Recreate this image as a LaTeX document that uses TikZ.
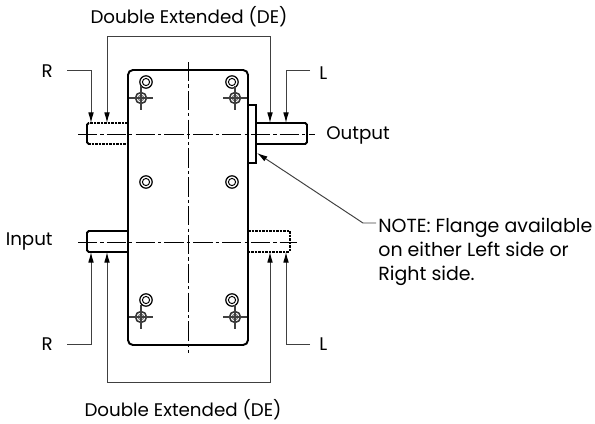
\documentclass[tikz,border=0pt]{standalone}
\usepackage{fontspec}
\setmainfont{Poppins}
\usepackage{tikz}
\usetikzlibrary{arrows.meta}
\tikzset{
    body/.style={line width=1.1pt},
    hidden/.style={line width=1pt, dash pattern=on 1.6pt off 0.4pt},
    centerline/.style={line width=0.55pt, dash pattern=on 11pt off 1.8pt on 1.8pt off 1.8pt},
    leader/.style={line width=0.55pt, black!75, -{Latex[length=6pt,width=3.2pt,black]}},
    label/.style={font=\fontsize{10.4pt}{13.6pt}\selectfont, inner sep=0pt},
    notetext/.style={font=\fontsize{10.8pt}{13.6pt}\selectfont, inner sep=0pt},
    bolt/.pic={
        \draw[line width=0.7pt] (0,0) circle (6.2);
        \draw[line width=0.55pt] (0,0) circle (3.6);
    },
    mark hole/.pic={
        \draw[line width=0.9pt, black!80] (0,0) circle (5.5);
        \draw[line width=0.5pt, black!60] (0,0) circle (2.8);
        \draw[line width=0.6pt, black!75] (-12,0) -- (12,0) (0,-12) -- (0,12);
    }
}
\begin{document}
\begin{tikzpicture}[x=0.02cm, y=-0.02cm]
    \useasboundingbox (0,0) rectangle (595,423);
    % Carcasa
    \draw[body, rounded corners=2.8pt] (128,70) rectangle (248,345);
    \draw[body] (248,105) -- (256,105) -- (256,163) -- (248,163);
    % Ejes superiores
    \draw[hidden] (128,123) -- (88,123);
    \draw[hidden] (88,144) -- (128,144);
    \draw[body, rounded corners=1pt] (89,123) -- (87,123) -- (87,144) -- (89,144);
    \draw[body, rounded corners=1pt] (256,123) -- (307,123) -- (307,144) -- (256,144);
    % Ejes inferiores
    \draw[body, rounded corners=1pt] (128,231) -- (87,231) -- (87,252) -- (128,252);
    \draw[hidden] (248,231) -- (289,231);
    \draw[hidden] (289,252) -- (248,252);
    \draw[hidden] (290,231) -- (290,252);
    \draw[line width=1.6pt] (128,231) -- (128,252) (248,231) -- (248,252);
    % Ejes de simetria
    \draw[centerline] (188,62) -- (188,353);
    \draw[centerline] (78,134) -- (315,134);
    \draw[centerline] (78,242) -- (297,242);
    % Tornillos
    \foreach \px/\py in {146/82, 232/82, 146/182, 232/182, 146/300, 232/300}
        \pic at (\px,\py) {bolt};
    \foreach \px/\py in {141/98, 235/98, 141/317, 235/317}
        \pic at (\px,\py) {mark hole};
    % Rotulos
    \node[label] (detop) at (189,17) {Double Extended (DE)};
    \node[label] (debot) at (183,410) {Double Extended (DE)};
    \node[label, anchor=east] (rtop) at (53,71) {R};
    \node[label, anchor=east] (rbot) at (53,344) {R};
    \node[label, anchor=west] (ltop) at (319,73) {L};
    \node[label, anchor=west] (lbot) at (319,344) {L};
    \node[label, anchor=west] (output) at (326,135) {Output};
    \node[label, anchor=east] (input) at (53,242) {Input};
    \node[notetext, anchor=north west, align=left] (note) at (378,218) {NOTE: Flange available\\on either Left side or\\Right side.};
    % Cotas
    \coordinate (rtopstart) at (67,70);
    \coordinate (ltopstart) at (310,70);
    \coordinate (rbotstart) at (67,344);
    \coordinate (lbotstart) at (310,344);
    \coordinate (rtoptip) at (91,123);
    \coordinate (ltoptip) at (286,123);
    \coordinate (rbottip) at (91,252);
    \coordinate (lbottip) at (286,252);
    \coordinate (detopmid) at (188,36);
    \coordinate (debotmid) at (188,382);
    \coordinate (deltop) at (107,123);
    \coordinate (dertop) at (270,123);
    \coordinate (delbot) at (107,252);
    \coordinate (derbot) at (270,252);
    \coordinate (flange) at (257,153);
    \coordinate (noteknee) at (363,223);
    \coordinate (notestart) at (376,223);
    \draw[leader] (rtopstart) -| (rtoptip);
    \draw[leader] (ltopstart) -| (ltoptip);
    \draw[leader] (rbotstart) -| (rbottip);
    \draw[leader] (lbotstart) -| (lbottip);
    \draw[leader] (detopmid) -| (deltop);
    \draw[leader] (detopmid) -| (dertop);
    \draw[leader] (debotmid) -| (delbot);
    \draw[leader] (debotmid) -| (derbot);
    \draw[leader] (notestart) -- (noteknee) -- (flange);
\end{tikzpicture}
\end{document}
